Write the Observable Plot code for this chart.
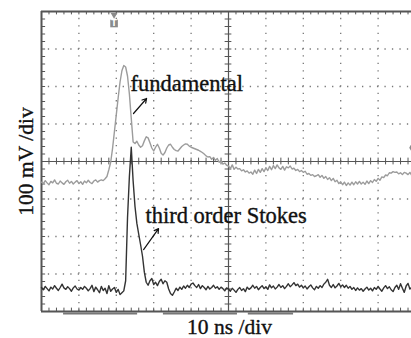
<!DOCTYPE html>
<html><head><meta charset="utf-8">
<script src="https://cdn.jsdelivr.net/npm/d3@7"></script>
<script src="https://cdn.jsdelivr.net/npm/@observablehq/plot@0.6"></script>
<style>html,body{margin:0;padding:0;background:#fff;overflow:hidden}</style>
</head><body><div id="chart"></div>
<script>
// oscilloscope sample spacing (ns)
const sampleStepNs = 0.5;
// fundamental trace, mV, t = 0 .. 99 ns
const fundamental = [
-55,-59,-51,-57,-62,-53,-57,-49,-58,-60,
-52,-57,-61,-54,-50,-58,-53,-60,-55,-51,
-59,-54,-61,-52,-57,-50,-56,-59,-52,-49,
-55,-51,-49,-51,-46,-40,-22,-2,35,80,
125,170,212,242,256,252,228,180,115,52,
48,54,44,38,42,55,66,63,50,36,
28,38,46,36,22,17,24,36,44,46,
38,32,29,28,34,40,44,47,46,41,
38,36,34,32,30,27,24,20,15,12,
13,6,11,3,8,-2,3,-7,-4,-10,
-12,-19,-9,-21,-15,-20,-19,-25,-22,-28,
-25,-31,-28,-34,-23,-32,-21,-29,-19,-27,
-17,-24,-13,-22,-11,-19,-9,-17,-21,-13,
-23,-14,-17,-12,-20,-18,-24,-21,-27,-24,
-29,-26,-34,-32,-37,-35,-40,-38,-35,-42,
-37,-45,-40,-48,-43,-51,-45,-54,-50,-59,
-54,-62,-55,-64,-57,-63,-55,-62,-54,-60,
-53,-60,-55,-61,-52,-59,-51,-56,-48,-53,
-45,-50,-41,-43,-36,-38,-30,-31,-27,-29,
-28,-33,-30,-35,-29,-31,-35,-29,-37
];
// third order Stokes trace, mV, t = 0 .. 99 ns
const stokes = [
-336,-342,-333,-339,-345,-335,-340,-331,-338,-344,
-336,-327,-337,-341,-334,-339,-346,-337,-332,-340,
-343,-336,-341,-333,-338,-345,-339,-330,-347,-335,
-342,-350,-333,-344,-338,-352,-331,-346,-340,-336,
-349,-341,-355,-350,
-345,-318,-150,-40,38,-52,-120,-165,-194,-222,-252,-295,-322,-330,
-318,-312,-328,-322,-331,-320,-314,-326,-318,-322,
-340,-352,-357,-348,-338,-344,-335,-341,-332,-338,
-330,-336,-327,-324,-331,-336,-328,-339,-331,-336,
-342,-333,-340,-336,-330,-338,-334,-341,-335,-339,
-345,-337,
-340,-346,-338,-343,-349,-341,-336,-344,-339,-347,
-335,-341,-337,-330,-338,-333,-342,-336,-331,-339,
-334,-341,-329,-337,-332,-340,-335,-328,-336,-331,
-339,-333,-326,-334,-329,-323,-331,-327,-335,-330,
-337,-332,-340,-334,-329,-337,-342,-333,-338,-331,
-336,-327,-322,-314,-330,-336,-328,-337,-332,-325,
-334,-329,-336,-330,-338,-333,-341,-336,-344,-337,
-343,-339,-346,-340,-335,-343,-338,-345,-336,-341,
-333,-340,-346,-337,-331,-339,-334,-342,-347,-336,
-330,-341,-326,-338,-349,-332,-325,-340,-335
];
// screen divisions
const xDivisions = [10, 20, 30, 40, 60, 70, 80, 90];
const yDivisions = [-300, -200, -100, 100, 200, 300];
const xMinor = d3.range(0, 100.01, 2);
const yMinor = d3.range(-400, 400.01, 20);
// annotations (data units)
const labelText = ["fundamental", "third order Stokes"];
const labelT = [23.8, 27.8];
const labelV = [187, -164];
const arrowT1 = [24.6, 27.3], arrowV1 = [128, -235];
const arrowT2 = [28.1, 31.3], arrowV2 = [168, -179];
const xLabel = "10 ns /div";
const yLabel = "100 mV /div";
const yLabelT = -2.15;
const triggerTime = 19.4;
const triggerLevel = 37;
const statusBars = [[5.9, 25.7], [32.6, 52.4], [55.3, 67.4]];

const fundData = fundamental.map((v, i) => ({t: i * sampleStepNs, v}));
const stokesData = stokes.map((v, i) => ({t: i * sampleStepNs, v}));
const labels = labelText.map((text, i) => ({text, t: labelT[i], v: labelV[i]}));
const arrows = arrowT1.map((t1, i) => ({t1, v1: arrowV1[i], t2: arrowT2[i], v2: arrowV2[i]}));

const frameColor = "#555";
const ink = "#111";
const chart = Plot.plot({
  width: 411, height: 338,
  marginLeft: 41, marginRight: 0, marginTop: 11, marginBottom: 27,
  x: {domain: [0, 100], range: [41, 415], axis: null},
  y: {domain: [-400, 400], range: [311, 11], axis: null},
  style: {fontFamily: "'Liberation Serif', serif", background: "#fff", overflow: "hidden"},
  marks: [
    Plot.gridX(xDivisions, {stroke: "#777", strokeOpacity: 1, strokeWidth: 1.3, strokeDasharray: "1.3,6.18", strokeDashoffset: 0.65}),
    Plot.gridY(yDivisions, {stroke: "#777", strokeOpacity: 1, strokeWidth: 1.3, strokeDasharray: "1.3,6.18", strokeDashoffset: 0.65}),
    Plot.ruleY([0], {stroke: frameColor, strokeWidth: 1.2}),
    Plot.ruleX([50], {stroke: frameColor, strokeWidth: 1.2}),
    Plot.ruleX(xMinor, {y1: -9, y2: 9, stroke: frameColor}),
    Plot.ruleY(yMinor, {x1: 49.1, x2: 50.9, stroke: frameColor}),
    Plot.ruleX(xMinor, {y1: 400, y2: 391, stroke: frameColor}),
    Plot.ruleX(xMinor, {y1: -400, y2: -391, stroke: frameColor}),
    Plot.ruleY(yMinor, {x1: 0, x2: 1.1, stroke: frameColor}),
    Plot.ruleX([0], {stroke: frameColor, strokeWidth: 2}),
    Plot.ruleY([400, -400], {stroke: frameColor, strokeWidth: 2}),
    Plot.ruleY(statusBars, {x1: d => d[0], x2: d => d[1], y: () => -400, dy: 2, stroke: "#777", strokeWidth: 2}),
    Plot.line(fundData, {x: "t", y: "v", stroke: "#9c9c9c", strokeWidth: 1.4}),
    Plot.line(stokesData, {x: "t", y: "v", stroke: "#333", strokeWidth: 1.4}),
    Plot.dot([triggerTime], {x: d => d, y: () => 368, symbol: "square", r: 4.3, fill: "#8a8a8a"}),
    Plot.dot([triggerTime], {x: d => d, y: () => 391, symbol: "triangle", rotate: 180, r: 2.5, fill: "#8a8a8a"}),
    Plot.text([triggerTime], {x: d => d, y: () => 368, text: () => "T", fill: "#fff", fontSize: 8, fontWeight: "bold", fontFamily: "DejaVu Sans"}),
    Plot.dot([triggerLevel], {x: () => 99.6, y: d => d, symbol: "diamond", r: 5, fill: "#8a8a8a"}),
    Plot.arrow(arrows, {x1: "t1", y1: "v1", x2: "t2", y2: "v2", stroke: ink, strokeWidth: 1.2, headLength: 6}),
    Plot.text(labels, {x: "t", y: "v", text: "text", textAnchor: "start", lineAnchor: "bottom", fontSize: 22.5, fill: ink, stroke: ink, strokeWidth: 0.35}),
    Plot.text([xLabel], {frameAnchor: "bottom", dx: 3, dy: 22, lineAnchor: "bottom", fontSize: 21.5, fill: ink, stroke: ink, strokeWidth: 0.35}),
    Plot.text([yLabel], {x: () => yLabelT, y: () => 0, rotate: -90, lineAnchor: "bottom", fontSize: 21.5, fill: ink, stroke: ink, strokeWidth: 0.35})
  ]
});
document.getElementById("chart").append(chart);
</script>
</body></html>
